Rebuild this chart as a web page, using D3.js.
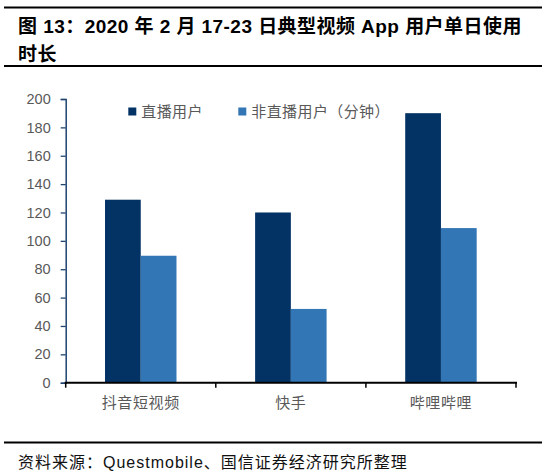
<!DOCTYPE html>
<html>
<head>
<meta charset="utf-8">
<script src="https://cdn.jsdelivr.net/npm/d3@7"></script>
<style>
  html, body { margin: 0; padding: 0; background: #ffffff; }
  svg { display: block; }
</style>
</head>
<body>
<svg id="chart" width="554" height="474"></svg>
<script>
// ---- data ----
const categories = ["抖音短视频", "快手", "哔哩哔哩"];
const seriesNames = ["直播用户", "非直播用户（分钟）"];
const liveUsers = [129, 120, 190];
const nonLiveUsers = [89.5, 52, 109];
const yTicks = [0, 20, 40, 60, 80, 100, 120, 140, 160, 180, 200];
const titleLines = ["图 13：2020 年 2 月 17-23 日典型视频 App 用户单日使用", "时长"];
const sourceText = "资料来源：Questmobile、国信证券经济研究所整理";

// ---- styles ----
const colors = ["#033264", "#3276B5"];
const cjk = "'Liberation Sans', Arial, 'Noto Sans CJK SC', sans-serif";

const svg = d3.select("#chart");

// header rules and title
svg.append("line").attr("x1", 4).attr("x2", 542).attr("y1", 7.5).attr("y2", 7.5)
  .attr("stroke", "#000").attr("stroke-width", 2.2);
svg.append("line").attr("x1", 4).attr("x2", 542).attr("y1", 66).attr("y2", 66)
  .attr("stroke", "#000").attr("stroke-width", 2.2);
svg.selectAll("text.title").data(titleLines).enter().append("text")
  .attr("class", "title")
  .attr("x", 18).attr("y", (d, i) => 33 + i * 28)
  .attr("font-family", cjk).attr("font-weight", "bold").attr("font-size", 19)
  .attr("letter-spacing", 0.45)
  .attr("fill", "#000").text(d => d);

// footer
svg.append("line").attr("x1", 4).attr("x2", 542).attr("y1", 442.5).attr("y2", 442.5)
  .attr("stroke", "#000").attr("stroke-width", 2.2);
svg.append("text").attr("x", 18).attr("y", 468)
  .attr("font-family", cjk).attr("font-size", 16).attr("letter-spacing", 1)
  .attr("fill", "#111")
  .text(sourceText);

// ---- plot ----
const pLeft = 65.7, pRight = 516, pTop = 99, pBottom = 382.7;
const x0 = d3.scaleBand().domain(categories).range([pLeft, pRight]).paddingInner(0).paddingOuter(0);
const x1 = d3.scaleBand().domain(seriesNames).range([0, x0.bandwidth()])
  .paddingOuter(1.1).paddingInner(0);
const y = d3.scaleLinear().domain([0, 200]).range([pBottom, pTop]);

const rows = categories.map((c, i) => ({ cat: c, vals: [liveUsers[i], nonLiveUsers[i]] }));

const g = svg.append("g");
g.selectAll("g.grp").data(rows).enter().append("g")
  .attr("class", "grp")
  .attr("transform", d => `translate(${x0(d.cat)},0)`)
  .selectAll("rect").data(d => d.vals.map((v, k) => ({ k, v })))
  .enter().append("rect")
  .attr("x", d => x1(seriesNames[d.k]))
  .attr("width", x1.bandwidth())
  .attr("y", d => y(d.v))
  .attr("height", d => y(0) - y(d.v))
  .attr("fill", d => colors[d.k]);

// y axis
const yAxis = svg.append("g").attr("transform", `translate(${pLeft},0)`)
  .call(d3.axisLeft(y).tickValues(yTicks).tickSize(5).tickPadding(10));
yAxis.select(".domain").attr("stroke", "#1F4470").attr("stroke-width", 1.5);
yAxis.selectAll(".tick line").attr("stroke", "#1F4470").attr("stroke-width", 1.3);
yAxis.selectAll(".tick text").attr("font-family", "'Liberation Sans', Arial, sans-serif")
  .attr("font-size", 14.5).attr("fill", "#595959");

// x axis
const xAxis = svg.append("g").attr("transform", `translate(0,${pBottom})`);
xAxis.append("line").attr("x1", pLeft - 1).attr("x2", pRight + 1).attr("y1", 0).attr("y2", 0)
  .attr("stroke", "#000").attr("stroke-width", 2);
const boundaries = categories.map(c => x0(c)).concat([x0(categories[categories.length - 1]) + x0.bandwidth()]);
xAxis.selectAll("line.tk").data(boundaries).enter().append("line")
  .attr("class", "tk").attr("x1", d => d).attr("x2", d => d).attr("y1", 0).attr("y2", 5)
  .attr("stroke", "#000").attr("stroke-width", 1.5);
xAxis.selectAll("text").data(categories).enter().append("text")
  .attr("x", d => x0(d) + x0.bandwidth() / 2).attr("y", 25)
  .attr("text-anchor", "middle")
  .attr("font-family", "'Noto Sans CJK SC', sans-serif").attr("font-size", 15)
  .attr("letter-spacing", 0.6)
  .attr("fill", "#595959").text(d => d);

// legend
const legendX = [128.3, 238.3];
const leg = svg.selectAll("g.leg").data(seriesNames).enter().append("g")
  .attr("class", "leg").attr("transform", (d, i) => `translate(${legendX[i]},107.5)`);
leg.append("rect").attr("width", 8).attr("height", 8).attr("fill", (d, i) => colors[i]);
leg.append("text").attr("x", 13).attr("y", 9.5)
  .attr("font-family", "'Noto Sans CJK SC', sans-serif").attr("font-size", 15)
  .attr("letter-spacing", 0.4)
  .attr("fill", "#595959").text(d => d);
</script>
</body>
</html>
